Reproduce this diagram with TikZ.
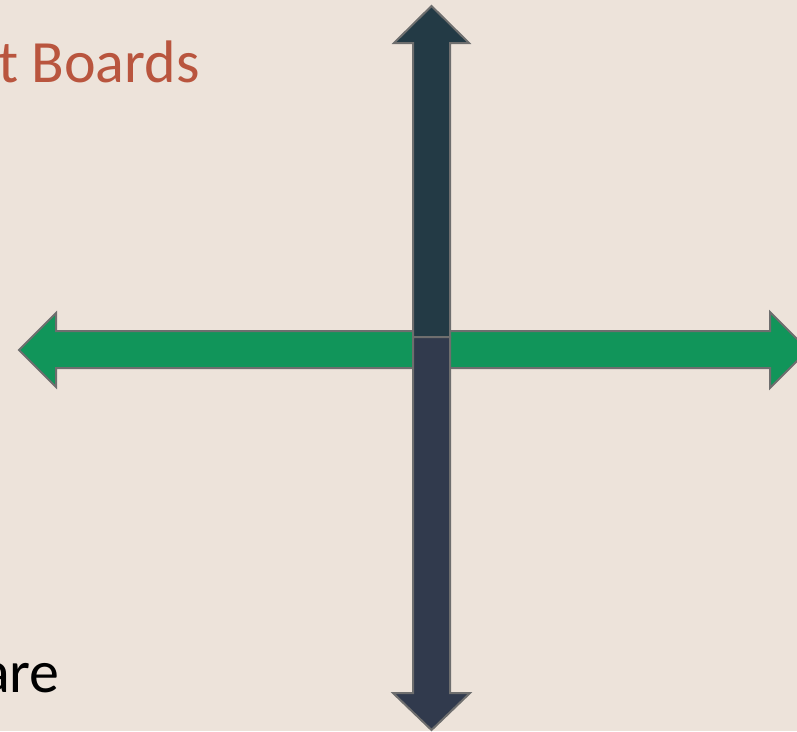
\documentclass[tikz,border=0pt]{standalone}
\usepackage{fontspec}
\setmainfont{Carlito}
\definecolor{bgbeige}{HTML}{EDE3DA}
\definecolor{edgegray}{HTML}{6E6E6E}
\definecolor{upteal}{HTML}{233A45}
\definecolor{downnavy}{HTML}{313A4D}
\definecolor{axisgreen}{HTML}{11955A}
\definecolor{titlered}{HTML}{B9553E}

\begin{document}
\begin{tikzpicture}[x=1pt,y=-1pt,
  arrowshape/.style={draw=edgegray,line width=2pt,line join=miter},
  caption/.style={font=\fontsize{60}{72}\selectfont,inner sep=0pt,anchor=base east}]
  \useasboundingbox (0,0) rectangle (797,731);
  \clip (0,0) rectangle (797,731);
  \fill[bgbeige] (0,0) rectangle (797,731);

  % horizontal axis
  \draw[arrowshape,fill=axisgreen] (19,350) -- (56,313) -- (56,331) -- (770,331) -- (770,312)
    -- (808,350) -- (770,388) -- (770,368) -- (56,368) -- (56,387) -- cycle;

  % vertical axis, upper and lower half
  \draw[arrowshape,fill=upteal] (413,337) -- (413,43) -- (394,43) -- (431.5,6)
    -- (469,43) -- (450,43) -- (450,337) -- cycle;
  \draw[arrowshape,fill=downnavy] (413,337) -- (413,693) -- (393,693) -- (431.5,730)
    -- (470,693) -- (450,693) -- (450,337) -- cycle;

  % texts cut at the left edge
  \node[caption,text=titlered] (title) at (200,82) {t Boards};
  \node[caption,text=black] (rest) at (60,692) {are};
\end{tikzpicture}
\end{document}
